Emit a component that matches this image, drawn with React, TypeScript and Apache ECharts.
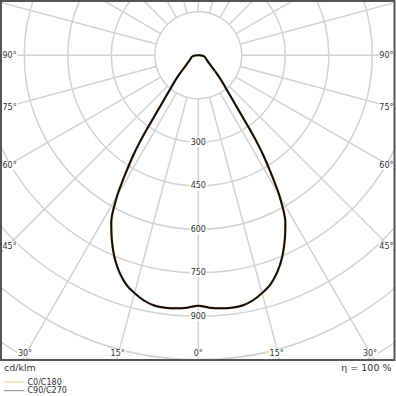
import React, { useEffect, useRef } from "react";
import * as echarts from "echarts";

// gamma angles (deg from nadir) and intensities (cd/klm)
const GAMMA = [0, 2.5, 5, 7.5, 10, 12.5, 15, 17.5, 20, 22.5, 25, 27.5, 30, 31, 32, 33, 34, 35, 36, 37, 38, 40, 42.5, 45, 47.5, 50, 55, 60, 65, 70, 75, 80, 85, 90, 180];
const C0_C180 = [864, 871, 876, 878, 876, 866, 849, 828, 796, 755, 705, 650, 560, 510, 460, 414, 360, 300, 248, 212, 185, 147, 118, 92, 72, 58, 44, 35, 30, 27, 24, 20, 14, 5, 0];
const C90_C270 = [864, 871, 876, 878, 876, 866, 849, 828, 796, 755, 705, 650, 560, 510, 460, 414, 360, 300, 248, 212, 185, 147, 118, 92, 72, 58, 44, 35, 30, 27, 24, 20, 14, 5, 0];
const RADIUS_LABELS = [300, 450, 600, 750, 900];
const SIDE_LABELS = ["90°", "75°", "60°", "45°"];
const BOTTOM_LABELS = ["30°", "15°", "0°", "15°", "30°"];
const SERIES_NAMES = ["C0/C180", "C90/C270"];

const CX = 198.3;
const CY = 55.3;
const PX_PER_UNIT = 0.29;
const R_MAX = 1350;

function buildCurve(vals: number[]) {
  const pts: number[][] = [];
  for (let i = GAMMA.length - 1; i >= 0; i--) pts.push([vals[i], GAMMA[i]]);
  for (let i = 1; i < GAMMA.length; i++) pts.push([vals[i], 360 - GAMMA[i]]);
  return pts;
}

export default function App() {
  const ref = useRef<HTMLDivElement>(null);
  useEffect(() => {
    if (!ref.current) return;
    const chart = echarts.init(ref.current, undefined, { renderer: "svg" });
    const font = "DejaVu Sans";
    const textColor = "#333";
    const sideY = [55.3, 107.3, 165.7, 246];
    const bottomX = [25, 117.7, 198.3, 276.7, 370];
    const graphics: any[] = [
      { type: "rect", z: 3, shape: { x: 0, y: 361, width: 396, height: 35 }, style: { fill: "#fff" } },
      { type: "rect", z: 6, shape: { x: 1, y: 1, width: 393.5, height: 359 }, style: { fill: "none", stroke: "#555", lineWidth: 2 } },
      { type: "text", z: 6, x: 4, y: 367, style: { text: "cd/klm", font: `9.5px ${font}`, fill: textColor, verticalAlign: "middle", align: "left" } },
      { type: "text", z: 6, x: 391.5, y: 367, style: { text: "η = 100 %", font: `9.5px ${font}`, fill: textColor, verticalAlign: "middle", align: "right" } },
    ];
    SIDE_LABELS.forEach((t, i) => {
      graphics.push({ type: "text", z: 5, x: 1.5, y: sideY[i], style: { text: t, font: `8px ${font}`, fill: textColor, align: "left", verticalAlign: "middle", backgroundColor: "#fff", padding: [0, 1] } });
      graphics.push({ type: "text", z: 5, x: 394.5, y: sideY[i], style: { text: t, font: `8px ${font}`, fill: textColor, align: "right", verticalAlign: "middle", backgroundColor: "#fff", padding: [0, 1] } });
    });
    BOTTOM_LABELS.forEach((t, i) => {
      graphics.push({ type: "text", z: 5, x: bottomX[i], y: 353.3, style: { text: t, font: `8px ${font}`, fill: textColor, align: "center", verticalAlign: "middle", backgroundColor: "#fff", padding: [0, 1] } });
    });

    chart.setOption({
      animation: false,
      backgroundColor: "#fff",
      polar: [
        { center: [CX, CY], radius: [150 * PX_PER_UNIT, R_MAX * PX_PER_UNIT] },
        { center: [CX, CY], radius: [0, R_MAX * PX_PER_UNIT] },
      ],
      angleAxis: [
        {
          polarIndex: 0, type: "value", min: 0, max: 360, interval: 15, startAngle: 270,
          axisLine: { show: false }, axisTick: { show: false }, axisLabel: { show: false },
          splitLine: { show: true, lineStyle: { color: "#d2d2d2", width: 1.5 } },
        },
        {
          polarIndex: 1, type: "value", min: 0, max: 360, startAngle: 270,
          axisLine: { show: false }, axisTick: { show: false }, axisLabel: { show: false }, splitLine: { show: false },
        },
      ],
      radiusAxis: [
        {
          polarIndex: 0, type: "value", min: 150, max: R_MAX, interval: 150,
          axisLine: { show: false }, axisTick: { show: false },
          splitLine: { show: true, lineStyle: { color: "#d2d2d2", width: 1.5 } },
          axisLabel: {
            show: true, margin: 0, align: "center", verticalAlign: "middle",
            formatter: (v: number) => (RADIUS_LABELS.indexOf(v) >= 0 ? `{a|${v}}` : ""),
            rich: { a: { fontSize: 8, fontFamily: font, color: textColor, backgroundColor: "#fff", padding: [1, 1] } },
          },
        },
        {
          polarIndex: 1, type: "value", min: 0, max: R_MAX,
          axisLine: { show: false }, axisTick: { show: false }, axisLabel: { show: false }, splitLine: { show: false },
        },
      ],
      legend: {
        orient: "vertical", left: 4, top: 378, height: 18, padding: 0, icon: "rect",
        itemWidth: 20, itemHeight: 1.2, itemGap: 0.6,
        textStyle: { fontSize: 8, fontFamily: font, color: textColor, lineHeight: 7, padding: [0, 0, 0, -1.5] },
        data: [
          { name: SERIES_NAMES[0], itemStyle: { color: "#f9cf9e" } },
          { name: SERIES_NAMES[1], itemStyle: { color: "#9a9a9a" } },
        ],
      },
      graphic: graphics,
      series: [
        {
          name: SERIES_NAMES[0], type: "line", coordinateSystem: "polar", polarIndex: 1, smooth: 0.3,
          symbol: "none", data: buildCurve(C0_C180), lineStyle: { color: "#f5c18a", width: 2.5 }, itemStyle: { color: "#f5c18a" }, z: 2,
        },
        {
          name: SERIES_NAMES[1], type: "line", coordinateSystem: "polar", polarIndex: 1, smooth: 0.3,
          symbol: "none", data: buildCurve(C90_C270), lineStyle: { color: "#0d0d0d", width: 2 }, itemStyle: { color: "#0d0d0d" }, z: 2,
        },
      ],
    });
    return () => chart.dispose();
  }, []);
  return <div ref={ref} style={{ position: "absolute", left: 0, top: 0, width: 396, height: 396 }} />;
}
